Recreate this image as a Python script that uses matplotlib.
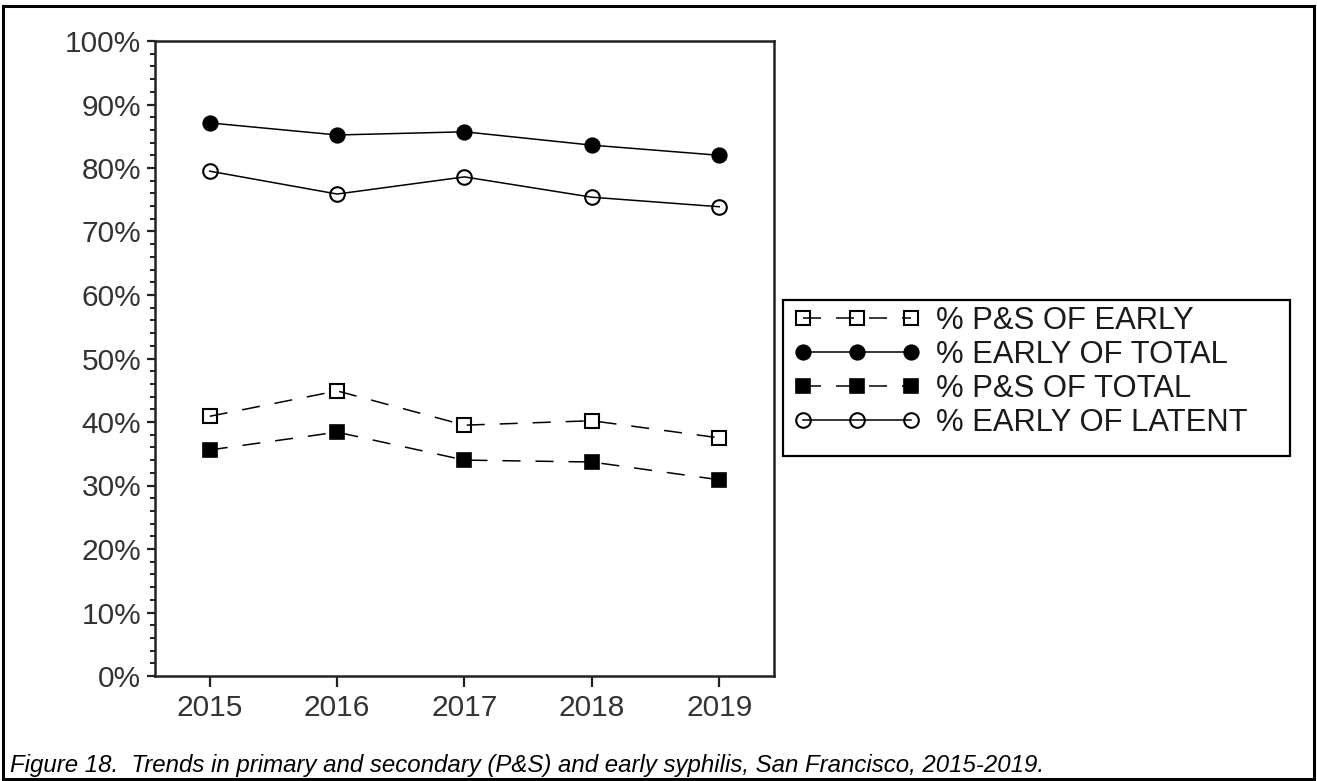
import matplotlib
matplotlib.use("Agg")
import matplotlib.pyplot as plt
from matplotlib.patches import Rectangle
from matplotlib.ticker import MultipleLocator, FixedLocator

years = [2015, 2016, 2017, 2018, 2019]
ps_of_early = [40.9, 44.9, 39.5, 40.2, 37.5]
early_of_total = [87.1, 85.2, 85.7, 83.6, 82.0]
ps_of_total = [35.6, 38.4, 34.0, 33.7, 30.9]
early_of_latent = [79.5, 75.9, 78.6, 75.4, 73.9]
series_labels = ["% P&S OF EARLY", "% EARLY OF TOTAL", "% P&S OF TOTAL", "% EARLY OF LATENT"]
y_ticks = [0, 10, 20, 30, 40, 50, 60, 70, 80, 90, 100]
y_tick_labels = ["0%", "10%", "20%", "30%", "40%", "50%", "60%", "70%", "80%", "90%", "100%"]
caption = "Figure 18.  Trends in primary and secondary (P&S) and early syphilis, San Francisco, 2015-2019."

plt.rcParams['font.family'] = ['Liberation Sans', 'DejaVu Sans']

W, H = 1317, 781
fig = plt.figure(figsize=(W / 100, H / 100), dpi=100)

def fx(px):
    return px / W

def fy(py):
    return 1 - py / H

ax_l, ax_r, ax_t, ax_b = 155, 774, 41, 676
ax = fig.add_axes([fx(ax_l), fy(ax_b), fx(ax_r - ax_l), (ax_b - ax_t) / H])

lw = 1.1
dash = (0, (11.8, 9.8))
ms_c = 10.5
ms_s = 9.5
l1, = ax.plot(years, ps_of_early, color='black', lw=lw, ls=dash, marker='s', ms=ms_s,
              mfc='none', mec='black', mew=1.5)
l2, = ax.plot(years, early_of_total, color='black', lw=lw, ls='-', marker='o', ms=ms_c,
              mfc='black', mec='black', mew=1.2)
l3, = ax.plot(years, ps_of_total, color='black', lw=lw, ls=dash, marker='s', ms=ms_s,
              mfc='black', mec='black', mew=1.2)
l4, = ax.plot(years, early_of_latent, color='black', lw=lw, ls='-', marker='o', ms=ms_c,
              mfc='none', mec='black', mew=1.5)

ax.set_xlim(2014.57, 2019.43)
ax.set_ylim(0, 100)
ax.xaxis.set_major_locator(FixedLocator(years))
ax.set_xticklabels([str(y) for y in years])
ax.yaxis.set_major_locator(FixedLocator(y_ticks))
ax.set_yticklabels(y_tick_labels)
ax.yaxis.set_minor_locator(MultipleLocator(2))

tick_color = '#333333'
for s in ax.spines.values():
    s.set_linewidth(1.8)
    s.set_color('#222222')
ax.tick_params(axis='both', which='major', labelsize=21.5, labelcolor=tick_color,
               color='#222222', width=1.6)
ax.tick_params(axis='y', which='major', length=6, pad=4)
ax.tick_params(axis='y', which='minor', length=3.5, width=1.4, color='#222222')
ax.tick_params(axis='x', which='major', length=8, pad=5)

# legend (frame drawn separately to match the wide box)
leg = fig.legend([l1, l2, l3, l4], series_labels, loc='upper left',
                 bbox_to_anchor=(fx(788), fy(300)), fontsize=22.3, frameon=False,
                 numpoints=3, handlelength=4.1, handletextpad=0.5,
                 borderpad=0.18, labelspacing=0.13, borderaxespad=0)
for t in leg.get_texts():
    t.set_color('#1a1a1a')
fig.patches.append(Rectangle((fx(783), fy(456)), fx(1290 - 783), (456 - 300) / H,
                             transform=fig.transFigure, fill=False,
                             edgecolor='black', linewidth=1.6))

fig.text(fx(10), fy(772), caption, fontsize=17.3, style='italic', ha='left',
         va='baseline', color='black')

fig.patches.append(Rectangle((fx(3), fy(779)), fx(1314 - 3), (779 - 6) / H,
                             transform=fig.transFigure, fill=False,
                             edgecolor='black', linewidth=2.2))

fig.savefig('out.png', dpi=100)
